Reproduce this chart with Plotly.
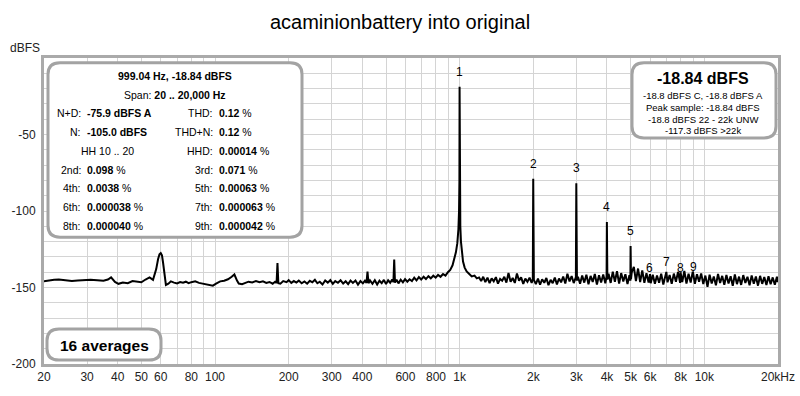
import math
import plotly.graph_objects as go

# ---------------- data ----------------
freq_hz = [
    20, 21, 22, 23, 24.5, 26, 27.5, 29, 31, 33, 35, 36.5, 37.6, 39, 40.3, 42, 44, 46, 48, 50,
    52, 54, 55.8, 57.5, 58.5, 59.3, 60, 60.7, 61.3, 62, 63, 64.5, 66, 68, 70, 72, 74, 76, 78, 80,
    83, 86, 89, 92, 95, 98, 101, 105, 109, 113, 117, 120, 123, 125, 129, 133, 137, 142, 147, 152,
    157, 162, 167, 172, 176, 178.5, 180, 181.5, 185, 190, 196,
    200, 205, 210, 215, 220, 226, 232, 238, 244, 250, 256, 262, 268, 275, 282, 289, 296, 303, 310,
    318, 326, 334, 342, 350, 358, 366, 375, 384, 393, 402, 410, 416, 420, 424, 430, 440, 450, 460,
    470, 480, 490, 500, 510, 520, 530, 536, 540, 544, 552, 562, 574, 586, 598, 611, 624, 638, 652,
    666, 681, 696, 712, 728, 745, 762, 780, 798, 816, 835, 855, 875, 895, 915, 935, 950, 965, 978,
    988, 994, 997.5, 999.04, 1000.5, 1002, 1006, 1012, 1020, 1032, 1048, 1068, 1092, 1120, 1150, 1175,
    1200, 1224, 1248, 1273, 1299, 1325, 1351, 1378, 1406, 1434, 1463, 1492, 1522, 1552, 1583, 1615,
    1647, 1680, 1714, 1748, 1783, 1819, 1855, 1892, 1930, 1969, 1990, 1998, 2010, 2048, 2089, 2131,
    2173, 2217, 2261, 2306, 2353, 2400, 2448, 2497, 2547, 2597, 2649, 2702, 2756, 2812, 2868, 2925,
    2985, 2997, 3015, 3044, 3105, 3167, 3230, 3295, 3361, 3428, 3497, 3567, 3638, 3711, 3785, 3861,
    3938, 3985, 3996, 4015, 4060, 4141, 4224, 4309, 4395, 4483, 4572, 4664, 4757, 4852, 4940, 4985,
    4995, 5015, 5050, 5150, 5253, 5358, 5465, 5575, 5686, 5800, 5916, 5994, 6035, 6155, 6278, 6404,
    6532, 6663, 6796, 6932, 6993, 7071, 7212, 7356, 7503, 7653, 7806, 7962, 7992, 8121, 8284, 8450,
    8619, 8791, 8967, 8991, 9146, 9329, 9516, 9706, 9900, 10098, 10300, 10506, 10716, 10930, 11149,
    11372, 11599, 11831, 12068, 12309, 12555, 12806, 13063, 13324, 13590, 13862, 14139, 14422, 14711,
    15005, 15305, 15611, 15923, 16242, 16567, 16898, 17236, 17581, 17932, 18291, 18657, 19030, 19411,
    19799, 20000,
]

level_dbfs = [
    -146.0, -145.3, -145.0, -144.8, -145.2, -145.7, -145.4, -145.1, -145.0, -145.3, -145.6, -144.8,
    -143.4, -146.4, -147.6, -146.8, -147.2, -145.8, -146.3, -146.6,
    -144.8, -143.4, -145.0, -138.0, -131.5, -128.3, -127.5, -129.0, -133.5, -141.0, -148.3, -147.5,
    -146.0, -146.8, -147.3, -146.4, -146.9, -146.2, -147.2, -146.5,
    -146.0, -147.0, -147.6, -147.8, -148.3, -148.8, -147.5, -146.0, -145.6, -144.6, -143.0, -141.5,
    -145.5, -147.4, -147.8, -147.0, -146.2, -146.7, -145.8, -146.6,
    -146.0, -147.0, -146.4, -147.5, -146.2, -147.0, -134.0, -147.2, -147.5, -145.8, -146.5,
    -145.2, -147.0, -145.8, -146.8, -145.5, -147.2, -146.0, -147.5, -145.6, -146.6, -145.0, -147.2,
    -146.2, -148.0, -145.4, -146.8, -145.2, -147.6, -145.8,
    -146.9, -145.3, -147.4, -145.9, -147.8, -145.5, -147.0, -145.4, -148.1, -145.8, -147.3, -145.6,
    -147.0, -139.6, -147.2, -145.4, -147.6, -145.2, -148.0,
    -145.6, -147.2, -145.0, -147.8, -145.3, -146.9, -144.8, -146.5, -131.8, -146.8, -145.0, -147.3,
    -144.9, -146.6, -144.5, -146.2, -144.6, -145.8, -143.6,
    -145.4, -143.2, -144.8, -143.0, -144.5, -142.6, -144.0, -142.3, -143.6, -141.8, -143.0, -141.2,
    -142.2, -140.0, -138.5, -135.5, -132.0, -127.0, -121.0,
    -112.0, -100.0, -80.0, -18.84, -78.0, -98.0, -110.0, -120.0, -127.5, -133.0, -137.0, -139.5,
    -141.0, -142.8, -142.2, -144.0,
    -143.4, -145.8, -143.0, -146.5, -143.6, -147.2, -144.0, -146.0, -143.2, -147.5, -144.4, -145.6,
    -143.0, -146.8, -140.5, -146.2,
    -143.8, -147.0, -140.8, -145.5, -143.4, -147.6, -144.2, -146.3, -143.6, -147.0, -144.5, -79.0,
    -145.0, -147.8, -144.2, -148.2,
    -144.6, -146.9, -143.8, -148.5, -145.0, -147.2, -143.5, -148.0, -144.1, -146.6, -142.8, -147.4,
    -141.0, -146.0, -142.5, -147.1,
    -143.2, -81.8, -145.5, -143.0, -147.6, -142.2, -146.8, -141.6, -147.9, -142.4, -146.4, -141.2,
    -148.0, -142.0, -146.7, -141.5,
    -147.3, -142.6, -107.2, -144.8, -141.0, -147.0, -139.6, -146.2, -139.4, -147.5, -140.6, -146.0,
    -141.3, -147.8, -142.0, -145.5,
    -122.9, -144.6, -140.2, -136.5, -145.8, -137.6, -146.4, -138.8, -147.0, -140.6, -146.8, -141.2,
    -147.2, -141.6, -147.5, -142.2,
    -146.9, -141.0, -148.0, -140.5, -139.8, -146.6, -141.8, -147.6, -140.9, -146.2, -139.8, -147.0,
    -140.0, -146.5, -139.2, -147.4,
    -141.0, -146.8, -139.6, -140.2, -147.6, -141.4, -146.2, -140.8, -147.8, -142.2, -149.5, -141.6,
    -147.4, -142.8, -148.6,
    -141.2, -147.0, -142.4, -148.2, -141.8, -147.4, -142.6, -148.9, -141.5, -147.8, -142.9, -148.3,
    -141.9, -147.0,
    -143.0, -148.6, -142.1, -147.5, -142.8, -148.8, -142.4, -147.6, -143.2, -148.4, -142.7, -147.9,
    -143.4, -148.2,
    -143.0, -146.5,
]

fundamental_hz = 999.04
fundamental_dbfs = -18.84
harmonic_orders = [1, 2, 3, 4, 5, 6, 7, 8, 9]
harmonic_pct = [100.0, 0.098, 0.071, 0.0038, 0.00063, 0.000038, 0.000063, 0.000040, 0.000042]

x_tick_hz = [20, 30, 40, 50, 60, 70, 80, 90, 100, 200, 300, 400, 500, 600, 700, 800, 900,
             1000, 2000, 3000, 4000, 5000, 6000, 7000, 8000, 9000, 10000, 20000]
x_tick_text = ["20", "30", "40", "50", "60", "", "80", "", "100", "200", "300", "400", "", "600",
               "", "800", "", "1k", "2k", "3k", "4k", "5k", "6k", "", "8k", "", "10k", ""]
x_end_label = "20kHz"
major_grid_hz = [100, 1000, 10000]

y_tick_dbfs = [-200, -190, -180, -170, -160, -150, -140, -130, -120, -110, -100,
               -90, -80, -70, -60, -50, -40, -30, -20, -10, 0]
y_tick_text = ["-200", "", "", "", "", "-150", "", "", "", "", "-100",
               "", "", "", "", "-50", "", "", "", "", ""]

title_text = "acaminionbattery into original"
stats_header = ["<b>999.04 Hz, -18.84 dBFS</b>", "Span: <b>20 .. 20,000 Hz</b>"]
left_labels = ["N+D:", "N:", None, "2nd:", "4th:", "6th:", "8th:"]
left_values = ["<b>-75.9 dBFS A</b>", "<b>-105.0 dBFS</b>", "HH 10 .. 20",
               "<b>0.098</b> %", "<b>0.0038</b> %", "<b>0.000038</b> %", "<b>0.000040</b> %"]
right_labels = ["THD:", "THD+N:", "HHD:", "3rd:", "5th:", "7th:", "9th:"]
right_values = ["<b>0.12</b> %", "<b>0.12</b> %", "<b>0.00014</b> %", "<b>0.071</b> %",
                "<b>0.00063</b> %", "<b>0.000063</b> %", "<b>0.000042</b> %"]
level_big = "<b>-18.84 dBFS</b>"
level_lines = ["-18.8 dBFS C, -18.8 dBFS A", "Peak sample: -18.84 dBFS",
               "-18.8 dBFS 22 - 22k UNW", "-117.3 dBFS >22k"]
averages_text = "<b>16 averages</b>"

# ---------------- layout helpers ----------------
W, H = 800, 396
PL, PR, PT, PB = 44, 778, 58, 372
FONT = "Liberation Sans, Arial, Helvetica, sans-serif"


def X(px):
    return (px - PL) / (PR - PL)


def Y(py):
    return (PB - py) / (PB - PT)


def rounded_rect(x0, y0, x1, y1, r):
    p = [
        f"M {X(x0 + r)},{Y(y0)}", f"L {X(x1 - r)},{Y(y0)}",
        f"Q {X(x1)},{Y(y0)} {X(x1)},{Y(y0 + r)}", f"L {X(x1)},{Y(y1 - r)}",
        f"Q {X(x1)},{Y(y1)} {X(x1 - r)},{Y(y1)}", f"L {X(x0 + r)},{Y(y1)}",
        f"Q {X(x0)},{Y(y1)} {X(x0)},{Y(y1 - r)}", f"L {X(x0)},{Y(y0 + r)}",
        f"Q {X(x0)},{Y(y0)} {X(x0 + r)},{Y(y0)}", "Z",
    ]
    return dict(type="path", xref="paper", yref="paper", path=" ".join(p),
                line=dict(color="#a3a3a3", width=3), fillcolor="white", layer="above")


fig = go.Figure()
fig.add_trace(go.Scatter(x=freq_hz, y=level_dbfs, mode="lines",
                         line=dict(color="black", width=2), hoverinfo="skip",
                         showlegend=False))

shapes = []
for f in major_grid_hz:
    shapes.append(dict(type="line", xref="x", yref="paper", x0=math.log10(f), x1=math.log10(f),
                       y0=0, y1=1, line=dict(color="#8a8a8a", width=1), layer="below"))
shapes.append(rounded_rect(48, 63, 302, 242, 12))
shapes.append(rounded_rect(632, 63, 776, 140, 12))
shapes.append(rounded_rect(47, 336, 161, 368, 12))

ann = []
# harmonic labels
for n, pct in zip(harmonic_orders, harmonic_pct):
    lvl = fundamental_dbfs + 20 * math.log10(pct / 100.0)
    ann.append(dict(x=math.log10(n * fundamental_hz), y=lvl, xref="x", yref="y", text=str(n),
                    showarrow=False, yshift=15, font=dict(size=12, color="black", family=FONT)))

small = dict(size=10.5, color="black", family=FONT)
for i, t in enumerate(stats_header):
    ann.append(dict(x=X(175), y=Y(76.5 + 19.2 * i), xref="paper", yref="paper", text=t,
                    showarrow=False, font=small, xanchor="center", yanchor="middle"))
for i in range(len(left_values)):
    yy = Y(76.5 + 19.2 * (i + 2))
    if left_labels[i] is None:
        ann.append(dict(x=X(107), y=yy, xref="paper", yref="paper", text=left_values[i],
                        showarrow=False, font=small, xanchor="center", yanchor="middle"))
    else:
        ann.append(dict(x=X(83), y=yy, xref="paper", yref="paper", text=left_labels[i],
                        showarrow=False, font=small, xanchor="right", yanchor="middle"))
        ann.append(dict(x=X(85), y=yy, xref="paper", yref="paper", text=left_values[i],
                        showarrow=False, font=small, xanchor="left", yanchor="middle"))
    ann.append(dict(x=X(214.5), y=yy, xref="paper", yref="paper", text=right_labels[i],
                    showarrow=False, font=small, xanchor="right", yanchor="middle"))
    ann.append(dict(x=X(216.5), y=yy, xref="paper", yref="paper", text=right_values[i],
                    showarrow=False, font=small, xanchor="left", yanchor="middle"))

ann.append(dict(x=X(703), y=Y(79), xref="paper", yref="paper", text=level_big, showarrow=False,
                font=dict(size=16, color="black", family=FONT), xanchor="center", yanchor="middle"))
for i, t in enumerate(level_lines):
    ann.append(dict(x=X(703), y=Y(96 + 12.3 * i), xref="paper", yref="paper", text=t,
                    showarrow=False, font=dict(size=9.5, color="black", family=FONT),
                    xanchor="center", yanchor="middle"))

ann.append(dict(x=X(104), y=Y(353), xref="paper", yref="paper", text=averages_text,
                showarrow=False, font=dict(size=15.5, color="black", family=FONT),
                xanchor="center", yanchor="middle"))
ann.append(dict(x=X(42), y=Y(48), xref="paper", yref="paper", text="dBFS", showarrow=False,
                font=dict(size=12, color="#222", family=FONT), xanchor="right", yanchor="middle"))
ann.append(dict(x=X(797), y=Y(385), xref="paper", yref="paper", text=x_end_label,
                showarrow=False, font=dict(size=12, color="#222", family=FONT),
                xanchor="right", yanchor="middle"))

fig.update_layout(
    width=W, height=H,
    margin=dict(l=PL, r=W - PR, t=PT, b=H - PB, pad=0),
    paper_bgcolor="white", plot_bgcolor="white",
    title=dict(text=title_text, x=0.5, xanchor="center", y=1 - 22 / H, yanchor="middle",
               font=dict(size=20, color="black", family=FONT)),
    xaxis=dict(type="log", range=[math.log10(20), math.log10(20000)],
               tickvals=x_tick_hz, ticktext=x_tick_text, showgrid=True, gridcolor="#d4d4d4",
               gridwidth=1, zeroline=False, showline=True, linecolor="#aaaaaa", linewidth=3,
               mirror=True, ticks="", tickfont=dict(size=12, color="#222", family=FONT)),
    yaxis=dict(range=[-200, 0], tickvals=y_tick_dbfs, ticktext=y_tick_text, showgrid=True,
               gridcolor="#d4d4d4", gridwidth=1, zeroline=False, showline=True,
               linecolor="#aaaaaa", linewidth=3, mirror=True, ticks="", ticklabelstandoff=3,
               tickfont=dict(size=12, color="#222", family=FONT)),
    shapes=shapes,
    annotations=ann,
)

fig.write_html(
    "out.html",
    config={"displayModeBar": False},
    post_script="document.body.style.margin='0';document.body.style.overflow='hidden';",
)
